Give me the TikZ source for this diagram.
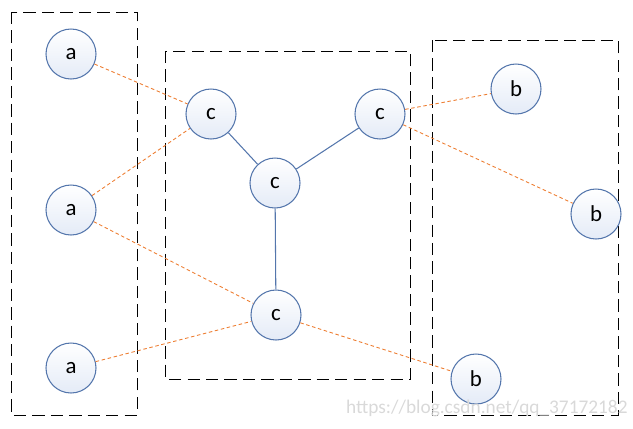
\documentclass[tikz,border=0pt]{standalone}
\usepackage{fontspec}
\setmainfont{Carlito}
\usepackage{tikz}
\usetikzlibrary{
    arrows.meta,
    positioning
}
\usepackage{xcolor}
\definecolor{ringblue}{RGB}{84,118,172}
\definecolor{ballfill}{RGB}{228,235,247}
\definecolor{linkorange}{RGB}{237,125,49}
\tikzstyle{ball} = [
    circle,
    draw=ringblue,
    line width=0.6pt,
    top color=white,
    bottom color=ballfill,
    minimum size=1cm,
    inner sep=0pt,
    font=\fontsize{13}{15}\selectfont
]
\tikzstyle{groupbox} = [
    draw=black,
    line width=0.5pt,
    dash pattern=on 7pt off 3.5pt
]
\tikzstyle{solidlink} = [
    draw=ringblue,
    line width=0.6pt
]
\tikzstyle{dashlink} = [
    draw=linkorange,
    line width=0.5pt,
    dash pattern=on 2pt off 1.5pt
]

\begin{document}
\begin{tikzpicture}
    \useasboundingbox (0,0) rectangle (12.66,-8.56);

    % Group frames
    \draw[groupbox] (0.22,-0.24) rectangle (2.74,-8.30);
    \draw[groupbox] (3.30,-1.02) rectangle (8.20,-7.58);
    \draw[groupbox] (8.64,-0.80) rectangle (12.36,-8.30);

    % Left group
    \node[ball] (a1) at (1.42,-1.08) {a};
    \node[ball] (a2) at (1.42,-4.20) {a};
    \node[ball] (a3) at (1.42,-7.36) {a};

    % Middle group
    \node[ball] (c1) at (4.22,-2.28) {c};
    \node[ball] (c2) at (5.50,-3.66) {c};
    \node[ball] (c3) at (7.60,-2.28) {c};
    \node[ball] (c4) at (5.52,-6.30) {c};

    % Right group
    \node[ball] (b1) at (10.32,-1.78) {b};
    \node[ball] (b2) at (11.92,-4.28) {b};
    \node[ball] (b3) at (9.52,-7.58) {b};

    % Inner links
    \draw[solidlink] (c1) -- (c2);
    \draw[solidlink] (c3) -- (c2);
    \draw[solidlink] (c2) -- (c4);

    % Cross links
    \draw[dashlink] (a1) -- (c1);
    \draw[dashlink] (a2) -- (c1);
    \draw[dashlink] (a2) -- (c4);
    \draw[dashlink] (a3) -- (c4);
    \draw[dashlink] (c3) -- (b1);
    \draw[dashlink] (c3) -- (b2);
    \draw[dashlink] (c4) -- (b3);

    % Watermark
    \node[anchor=east, text=gray!30, font=\fontsize{11}{13}\selectfont, inner sep=0pt] (wm) at (12.56,-8.16) {https://blog.csdn.net/qq\_37172182};
\end{tikzpicture}
\end{document}
